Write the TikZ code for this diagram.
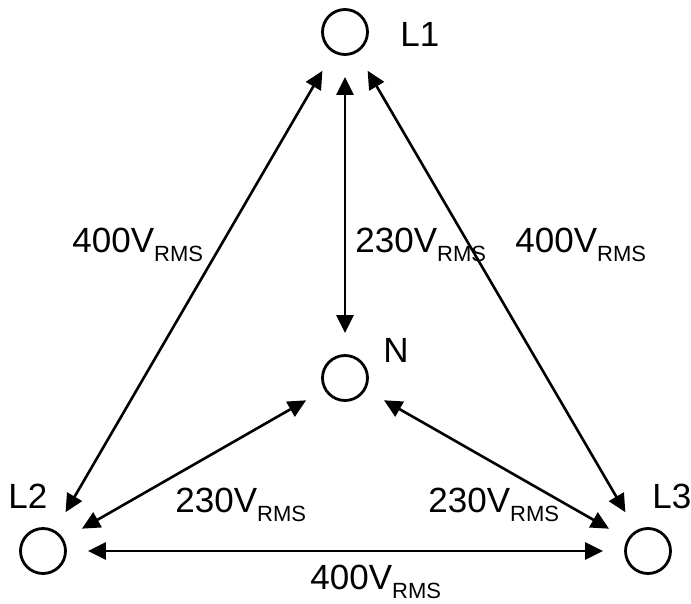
\documentclass[tikz,border=0pt]{standalone}
\usepackage{fontspec}
\setmainfont{Liberation Sans}
\usetikzlibrary{arrows.meta}
\newcommand{\rmsvolt}[1]{#1V\raisebox{-4.5pt}{\fontsize{11}{13}\selectfont RMS}}

\begin{document}
\begin{tikzpicture}[x=0.5pt, y=-0.5pt,
    phasenode/.style={circle, draw=black, line width=1.4pt, minimum size=22.5pt, inner sep=0pt},
    voltarrow/.style={{Triangle[length=9pt,width=8.5pt]}-{Triangle[length=9pt,width=8.5pt]}, line width=1.3pt, shorten >=10.5pt, shorten <=10.5pt},
    lbl/.style={inner sep=0pt, font=\fontsize{17.5}{21}\selectfont},
]
\useasboundingbox (0,0) rectangle (691,604);

%Nodes
\node[phasenode] (l1) at (345,32) {};
\node[phasenode] (n) at (345,378) {};
\node[phasenode] (l2) at (43,551) {};
\node[phasenode] (l3) at (648,551) {};

\node[lbl, anchor=base west] (l1lbl) at (400,47) {L1};
\node[lbl, anchor=base west] (nlbl) at (383,363) {N};
\node[lbl, anchor=base west] (l2lbl) at (8,508) {L2};
\node[lbl, anchor=base west] (l3lbl) at (652,508) {L3};

%Lines
\draw[voltarrow] (l1) -- (n);
\draw[voltarrow] (l1) -- (l2);
\draw[voltarrow] (l1) -- (l3);
\draw[voltarrow] (n) -- (l2);
\draw[voltarrow] (n) -- (l3);
\draw[voltarrow] (l2) -- (l3);

%Values
\node[lbl, anchor=base west] (v12) at (72,253) {\rmsvolt{400}};
\node[lbl, anchor=base west] (v1n) at (355,253) {\rmsvolt{230}};
\node[lbl, anchor=base west] (v13) at (515,253) {\rmsvolt{400}};
\node[lbl, anchor=base west] (vn2) at (175,512) {\rmsvolt{230}};
\node[lbl, anchor=base west] (vn3) at (428,512) {\rmsvolt{230}};
\node[lbl, anchor=base west] (v23) at (310,589) {\rmsvolt{400}};
\end{tikzpicture}
\end{document}
